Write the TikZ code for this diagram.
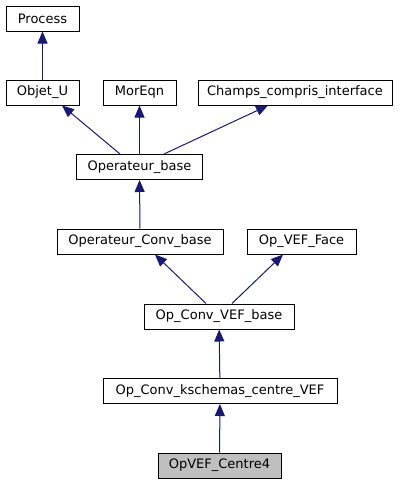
\documentclass[tikz,border=0pt]{standalone}
\usepackage{fontspec}
\setmainfont{DejaVu Sans}
\usetikzlibrary{arrows.meta}
\definecolor{edgeblue}{RGB}{25,25,112}
\definecolor{leafgray}{RGB}{191,191,191}

\begin{document}
\begin{tikzpicture}[x=1pt,y=-1pt,
  cls/.style={draw,line width=1pt,fill=white,inner sep=0pt,minimum height=25pt,font=\fontsize{13}{15}\selectfont},
  inh/.style={edgeblue,line width=1pt,{Triangle[width=10pt,length=12pt]}-}]
  \useasboundingbox (0,0) rectangle (403,485);
  \node[cls,minimum width=73pt]  (process) at (42.5,18.5)  {Process};
  \node[cls,minimum width=73pt]  (objet)   at (42.5,92.5)  {Objet\_U};
  \node[cls,minimum width=73pt]  (moreqn)  at (139.5,92.5) {MorEqn};
  \node[cls,minimum width=194pt] (champs)  at (295,92.5)   {Champs\_compris\_interface};
  \node[cls,minimum width=126pt] (opbase)  at (139.5,167)  {Operateur\_base};
  \node[cls,minimum width=166pt] (opconv)  at (140,241.5)  {Operateur\_Conv\_base};
  \node[cls,minimum width=109pt] (vefface) at (301.5,241.5) {Op\_VEF\_Face};
  \node[cls,minimum width=150pt] (convvef) at (219,316.5)  {Op\_Conv\_VEF\_base};
  \node[cls,minimum width=234pt] (kschem)  at (220,391)    {Op\_Conv\_kschemas\_centre\_VEF};
  \node[cls,minimum width=123pt,fill=leafgray] (centre4) at (219.5,465.5) {OpVEF\_Centre4};

  \draw[inh] (process) -- (objet);
  \draw[inh] (objet.south -| 62,0) -- (opbase.north -| 120,0);
  \draw[inh] (moreqn) -- (opbase);
  \draw[inh] (champs.south -| 268,0) -- (opbase.north -| 164,0);
  \draw[inh] (opbase) -- (opconv);
  \draw[inh] (opconv.south -| 155,0) -- (convvef.north -| 206,0);
  \draw[inh] (vefface.south -| 283,0) -- (convvef.north -| 232,0);
  \draw[inh] (convvef) -- (kschem);
  \draw[inh] (kschem) -- (centre4);
\end{tikzpicture}
\end{document}
